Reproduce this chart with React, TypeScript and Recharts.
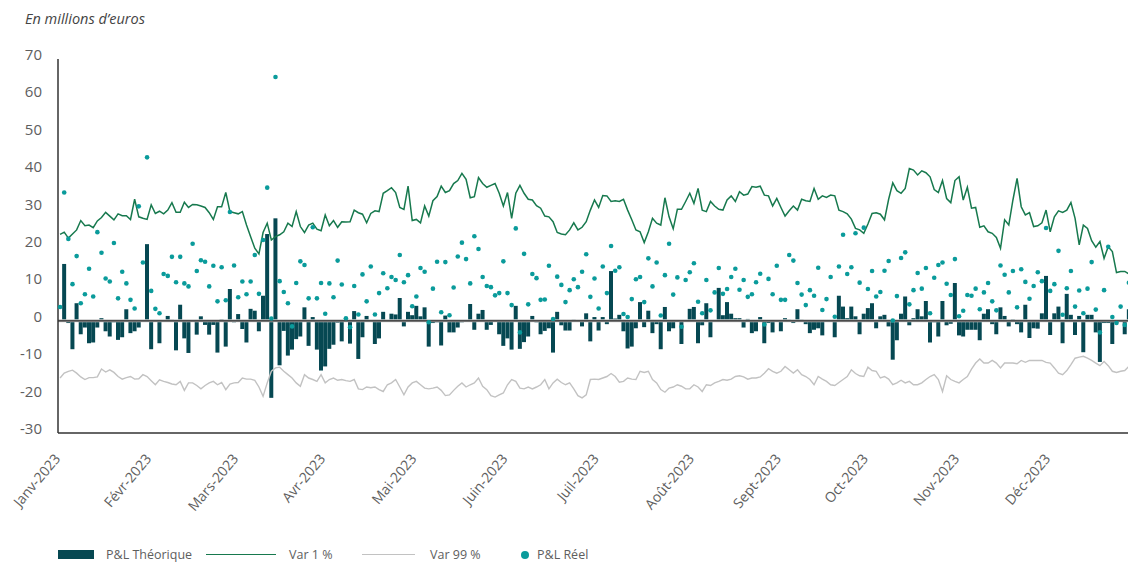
import React from 'react';
import { ComposedChart, Bar, Line, XAxis, YAxis, ReferenceLine } from 'recharts';

// P&L Théorique (bars), one value per trading day
const pnlTheorique = [
  0, 15.2, -0.6, -7.6, 4.7, -3.6, -1.8, -6.0, -5.8, -1.8, 0.7, -2.8, -4.2, -0.4, -5.1, -4.4, 3.1, -3.3, -2.8, -1.8, 0, 20.5, -7.6, 0, -6.0, 0, 1.3, 0.3, -7.9, 4.3, -4.7, -8.6,
  -0.3, -3.7, 1.2, -1.1, -3.7, -1.1, -8.5, 0.4, -6.9, 8.5, -0.4, 1.8, -2.2, -5.8, 3.2, 2.7, -2.8, 6.7, 23.2, -20.6, 27.4, -11.9, -2.7, -9.3, -7.7, -4.9, -4.2, 3.6, -6.7, 1.0, -7.7, -13.3,
  -12.2, -7.5, -6.4, -0.5, -5.5, 0.7, -6.1, 2.6, -10.2, -4.4, 1.3, -0.3, -6.2, -4.7, 2.4, 0, 1.9, 1.7, 6.1, -1.5, 2.4, 1.5, 4.0, 1.2, 3.6, -6.9, -0.6, -0.4, -6.6, 1.4, -3.1, -3.1,
  -1.8, -0.4, -0.3, 4.5, -2.4, 1.9, 2.9, -2.4, -1.1, 0, -3.6, -6.7, -4.7, -7.7, 4.0, -7.5, -5.7, -4.2, 1.3, -0.4, -3.6, -2.7, -2.0, -8.5, 2.4, -1.2, -2.6, -2.6, 0.3, 0, -1.5, 2.0,
  -5.5, 1.0, -2.6, 1.0, -0.9, 13.3, 0.6, 1.6, -2.8, -7.4, -6.9, -2.0, 5.0, -1.7, 2.7, -3.3, -0.9, -7.6, 3.7, -2.8, -2.0, 0, -6.2, 0, 3.2, 3.7, -6.0, -1.2, 4.7, -4.4, 0, 8.8,
  1.5, 5.0, 1.9, 0.7, 0.7, -1.8, 0.5, -3.3, -2.8, 1.0, -6.0, -0.6, -3.1, 0, -2.8, 0.7, 0.3, -0.6, 3.1, 0.3, -0.9, -3.3, -2.4, -2.0, -3.9, 0, 0, -4.4, 6.7, 3.8, 0.7, 3.8,
  1.2, -3.6, 1.9, 3.4, 4.7, -2.0, 1.2, 1.6, -1.5, -10.4, -5.2, 1.9, 6.5, -1.2, 0.7, 3.1, 1.2, 5.3, -5.8, -0.4, -4.2, 5.3, -1.2, -0.8, 10.1, -3.9, -4.2, -2.4, -2.4, -2.4, -5.2, 1.9,
  3.1, -0.9, -3.6, 3.6, 1.3, -1.5, 0.4, -0.9, -3.1, 4.3, -4.6, -2.0, -2.1, 2.0, 12.0, -3.8, 2.0, 3.8, -6.0, 7.2, 1.6, -3.8, 1.3, -8.4, 1.6, 1.6, -3.1, -11.0, -0.6, -0.6, -6.2, -0.6, 0, -3.6, 3.1,
];

// Var 1 %
const var1 = [
  23.1, 23.7, 22.1, 23.2, 24.3, 26.8, 25.4, 25.6, 24.9, 26.7, 27.6, 29.0, 28.0, 27.0, 28.6, 28.1, 28.1, 27.1, 32.5, 27.8, 27.4, 27.1, 31.0, 28.7, 29.3, 28.6, 29.6, 31.6, 29.0, 29.0, 31.7, 30.3,
  31.1, 31.0, 30.7, 30.3, 28.9, 27.1, 30.5, 30.5, 34.3, 29.2, 28.9, 28.6, 29.2, 25.6, 22.5, 19.4, 17.9, 23.6, 26.1, 21.6, 22.5, 23.0, 23.8, 26.1, 25.2, 29.2, 25.2, 23.6, 25.6, 26.1, 24.5, 24.1,
  28.3, 25.4, 26.8, 25.0, 26.5, 26.4, 26.5, 29.6, 28.9, 28.5, 26.2, 28.7, 29.4, 29.2, 34.1, 34.8, 35.6, 34.3, 30.3, 29.8, 36.0, 26.8, 27.1, 26.2, 30.7, 28.0, 32.1, 33.2, 36.0, 34.3, 34.8, 36.7,
  37.5, 39.4, 37.8, 32.9, 33.2, 38.3, 36.7, 35.7, 36.2, 36.7, 34.1, 30.7, 34.3, 27.4, 34.1, 36.2, 34.1, 32.5, 32.3, 30.8, 30.1, 28.0, 27.8, 26.5, 23.6, 23.2, 23.0, 24.3, 26.2, 24.3, 25.0, 26.5,
  29.6, 32.3, 30.3, 33.5, 33.4, 31.9, 32.1, 31.9, 32.5, 29.6, 27.0, 24.3, 23.8, 20.9, 23.8, 27.4, 26.1, 25.6, 32.9, 27.8, 24.6, 29.8, 29.8, 31.9, 34.1, 31.4, 35.4, 29.6, 29.2, 31.9, 30.7, 29.8,
  29.6, 32.3, 33.4, 31.9, 34.5, 33.6, 33.9, 35.9, 35.7, 36.0, 33.6, 33.4, 30.7, 32.7, 30.3, 28.0, 29.4, 30.7, 29.6, 32.5, 32.1, 31.9, 35.4, 32.5, 33.4, 33.0, 33.6, 33.4, 29.6, 29.2, 28.6, 27.2,
  24.7, 24.3, 23.4, 25.9, 28.7, 28.9, 28.5, 27.0, 32.5, 36.9, 34.8, 34.1, 35.4, 40.7, 40.3, 39.0, 40.1, 39.6, 38.5, 35.1, 34.3, 37.5, 32.7, 31.6, 37.5, 38.5, 32.3, 35.7, 30.1, 30.3, 25.0, 25.4,
  23.8, 23.4, 22.3, 19.4, 27.0, 25.6, 32.3, 38.1, 30.5, 28.3, 28.9, 25.2, 25.4, 26.2, 29.6, 23.8, 27.8, 29.4, 29.0, 29.6, 31.6, 27.4, 20.3, 25.6, 24.7, 21.4, 19.7, 21.2, 16.7, 19.8, 18.5, 12.9, 13.2, 13.2, 12.5,
];

// Var 99 %
const var99 = [
  -15.3, -14.0, -13.5, -13.2, -14.0, -15.0, -15.7, -15.2, -15.2, -15.0, -12.9, -13.7, -13.1, -13.8, -14.9, -15.6, -15.2, -14.9, -15.6, -15.5, -14.4, -14.9, -16.0, -17.1, -15.8, -16.2, -16.5, -16.9, -17.1, -16.2, -18.6, -16.6,
  -16.6, -17.3, -18.2, -17.3, -16.6, -16.2, -17.1, -16.5, -18.4, -16.9, -16.6, -16.5, -15.3, -15.6, -15.6, -15.9, -17.7, -20.2, -16.6, -13.5, -12.6, -12.4, -13.5, -14.4, -15.3, -16.6, -17.5, -14.4, -15.3, -15.7, -16.2, -14.4,
  -16.6, -15.7, -15.3, -15.9, -15.7, -16.0, -16.2, -15.7, -18.2, -18.4, -17.7, -17.9, -17.7, -18.4, -18.9, -17.1, -16.6, -15.7, -17.7, -19.8, -17.7, -16.6, -16.2, -17.1, -18.0, -18.2, -18.0, -17.7, -18.6, -20.0, -19.8, -18.6,
  -17.5, -16.6, -17.7, -17.1, -16.6, -15.3, -17.5, -18.4, -20.0, -20.4, -19.8, -19.3, -17.1, -15.7, -16.2, -18.0, -18.2, -17.7, -18.2, -17.7, -17.1, -15.7, -18.2, -16.6, -15.6, -16.5, -17.1, -16.6, -18.2, -20.0, -20.6, -19.8,
  -15.7, -15.6, -15.7, -15.3, -14.9, -14.1, -14.9, -16.4, -16.2, -15.3, -15.6, -15.7, -13.5, -13.8, -13.5, -15.7, -16.6, -18.4, -19.1, -18.0, -17.7, -17.1, -17.5, -18.2, -18.2, -17.1, -17.7, -18.9, -17.1, -17.3, -16.6, -16.2,
  -15.7, -15.9, -15.6, -14.9, -14.7, -15.0, -15.6, -15.3, -15.3, -15.0, -14.0, -12.8, -13.5, -14.0, -13.5, -12.2, -13.1, -14.0, -13.1, -14.4, -14.9, -15.7, -17.1, -14.9, -15.6, -16.2, -17.1, -17.3, -16.5, -15.7, -14.9, -13.1,
  -14.1, -14.7, -14.9, -12.4, -13.3, -13.5, -15.3, -14.9, -15.6, -17.1, -16.6, -15.9, -16.6, -16.2, -17.1, -17.1, -16.6, -15.7, -14.9, -14.4, -15.7, -18.9, -14.7, -15.7, -16.2, -16.6, -15.7, -14.9, -12.9, -11.3, -10.2, -11.3,
  -11.3, -10.6, -11.3, -12.6, -11.3, -11.3, -11.3, -11.5, -10.6, -11.1, -10.6, -10.6, -10.6, -10.6, -11.1, -11.3, -12.6, -14.0, -14.4, -13.3, -11.7, -10.0, -9.7, -9.5, -10.0, -10.6, -11.3, -12.0, -10.9, -12.0, -13.5, -13.8, -13.5, -13.3, -12.2,
];

// P&L Réel (dots)
const pnlReel = [
  3.7, 34.3, 21.9, 9.8, 17.3, 4.7, 7.1, 13.9, 6.5, 23.7, 18.2, 11.3, 10.5, 20.8, 6.0, 13.1, 10.0, 5.6, 3.3, 30.6, 15.6, 43.7, 8.0, 3.2, 2.0, 12.5, 12.0, 17.1, 10.3, 17.1, 10.0, 9.2,
  20.6, 13.3, 16.2, 15.8, 9.2, 14.7, 5.2, 14.3, 5.5, 29.1, 14.8, 6.3, 10.5, 7.1, 10.5, 17.6, 7.2, 21.6, 35.6, 0.6, 65.2, 10.6, 7.7, 4.7, -1.5, 10.1, 15.9, 14.9, 6.0, 25.0, 6.0, 10.1,
  1.9, 10.0, 6.3, 16.1, 9.7, 0.7, -1.7, 9.3, 1.7, 12.4, 5.2, 14.5, 1.7, 7.4, 12.7, 8.7, 11.7, 10.9, 17.6, 10.3, 12.2, 3.9, 6.5, 14.1, 13.1, -0.4, 8.6, 15.8, 2.3, 15.7, 1.5, 8.9,
  17.2, 20.9, 16.5, 10.0, 22.6, 19.2, 11.7, 9.3, 9.0, 6.8, 7.4, 15.9, 7.4, 4.2, 24.7, -3.1, 17.9, 4.4, 12.5, 11.4, 5.6, 5.7, 14.7, 0.5, 11.8, 9.6, 5.0, 8.2, 11.1, 9.0, 13.1, 17.8,
  6.4, 11.3, 3.3, 14.5, 7.4, 20.0, 13.4, 14.3, 1.8, 1.0, 5.8, 11.1, 11.7, 5.0, 16.7, 9.2, 15.6, 1.4, 12.2, 20.6, 7.0, 11.6, -1.6, 10.9, 13.0, 15.4, 5.1, 2.0, 10.9, 2.8, 7.6, 14.1,
  7.2, 8.5, 11.7, 13.9, 8.3, 10.9, 6.4, 7.1, 10.3, 12.6, -1.0, 11.2, 7.1, 14.7, 5.6, 5.6, 17.6, 16.1, 10.1, 7.0, 4.2, 8.2, 6.7, 14.2, 2.9, 5.8, 11.7, 1.1, 14.5, 23.0, 12.5, 14.3,
  23.4, 10.2, 24.9, 8.5, 13.3, 6.5, 7.7, 13.4, 16.0, 0.1, 6.6, 16.8, 18.3, 4.4, 8.2, 12.8, 8.6, 14.1, 2.0, 11.5, 14.9, 15.6, 9.9, 6.9, 16.5, 1.2, 2.7, 6.9, 6.7, 8.6, 3.1, 7.6,
  10.1, 5.2, 2.8, 14.8, 12.3, 7.6, 13.3, 3.6, 13.8, 10.4, 5.9, 9.3, 13.0, 10.6, 24.8, 8.0, 9.8, 18.7, 1.6, 8.7, 13.3, 3.8, 8.1, 2.0, 8.6, 15.7, 3.0, -3.1, 8.2, 19.8, 1.0, -0.6, 3.8, -1.1, 10.2,
];

const monthLabels = ['Janv-2023', 'Févr-2023', 'Mars-2023', 'Avr-2023', 'Mai-2023', 'Juin-2023', 'Juil-2023', 'Août-2023', 'Sept-2023', 'Oct-2023', 'Nov-2023', 'Déc-2023'];
const monthTickIndex = [0, 22, 43, 64, 86, 108, 130, 153, 174, 195, 217, 239];
const yTicks = [-30, -20, -10, 0, 10, 20, 30, 40, 50, 60, 70];

const data = pnlTheorique.map((v, i) => ({
  i,
  theo: v,
  var1: var1[i],
  var99: var99[i],
  reel: pnlReel[i],
}));

const FONT = '"Open Sans", "Liberation Sans", sans-serif';
const C_BAR = '#064852';
const C_VAR1 = '#17794E';
const C_VAR99 = '#C2C2C2';
const C_DOT = '#0A9B9B';
const C_TEXT = '#5E5E5E';

const tickMap: Record<number, string> = {};
monthTickIndex.forEach((idx, k) => { tickMap[idx] = monthLabels[k]; });

const XTick = (props: any) => {
  const { x, y, payload } = props;
  const label = tickMap[payload.value];
  if (label === undefined) return <g />;
  return (
    <g transform={`translate(${x + 1},${y + 24})`}>
      <text textAnchor="end" transform="rotate(-50)" fontSize={14} fill={C_TEXT} fontFamily={FONT}>
        {label}
      </text>
    </g>
  );
};

const YTick = (props: any) => {
  const { x, y, payload } = props;
  return (
    <text x={x} y={y + 1} textAnchor="end" fontSize={15} fill={C_TEXT} fontFamily={FONT}>
      {payload.value}
    </text>
  );
};

const legendText: React.CSSProperties = {
  position: 'absolute', top: 547, fontSize: 12.5, color: C_TEXT, fontFamily: FONT, lineHeight: '16px',
};

export default function App() {
  return (
    <div style={{ position: 'absolute', left: 0, top: 0, width: 1128, height: 565, overflow: 'hidden', background: '#fff' }}>
      <div style={{ position: 'absolute', left: 25, top: 9, fontSize: 14.5, fontStyle: 'italic', color: '#444', fontFamily: FONT }}>
        En millions d’euros
      </div>
      <div style={{ position: 'absolute', left: 0, top: 0 }}>
        <ComposedChart width={1131} height={565} data={data} margin={{ top: 59, right: 0, bottom: 0, left: 0 }} barCategoryGap={0}>
          <XAxis
            dataKey="i"
            type="category"
            interval={0}
            tick={<XTick />}
            tickLine={false}
            tickSize={0}
            height={132}
            axisLine={{ stroke: '#333', strokeWidth: 1.5 }}
          />
          <YAxis
            type="number"
            domain={[-30, 70]}
            ticks={yTicks}
            interval={0}
            width={58}
            tickLine={false}
            tickSize={0}
            tickMargin={16}
            tick={<YTick />}
            axisLine={{ stroke: '#333', strokeWidth: 1.5 }}
          />
          <ReferenceLine y={0} stroke="#C8C8C8" strokeWidth={3} />
          <Bar dataKey="theo" fill={C_BAR} barSize={4} isAnimationActive={false} />
          <ReferenceLine y={0} stroke="#222" strokeWidth={1.2} />
          <Line type="linear" dataKey="var99" stroke={C_VAR99} strokeWidth={1.4} dot={false} activeDot={false} isAnimationActive={false} />
          <Line type="linear" dataKey="var1" stroke={C_VAR1} strokeWidth={1.5} dot={false} activeDot={false} isAnimationActive={false} />
          <Line
            type="linear"
            dataKey="reel"
            stroke="none"
            strokeWidth={0}
            dot={{ r: 2.3, fill: C_DOT, stroke: 'none' }}
            activeDot={false}
            isAnimationActive={false}
          />
        </ComposedChart>
      </div>
      {/* Legend */}
      <div style={{ position: 'absolute', left: 58, top: 550, width: 36, height: 9, background: C_BAR }} />
      <div style={{ ...legendText, left: 106 }}>P&amp;L Théorique</div>
      <div style={{ position: 'absolute', left: 206, top: 554, width: 70, height: 0, borderTop: `1.5px solid ${C_VAR1}` }} />
      <div style={{ ...legendText, left: 289 }}>Var 1 %</div>
      <div style={{ position: 'absolute', left: 362, top: 554, width: 53, height: 0, borderTop: `1.5px solid ${C_VAR99}` }} />
      <div style={{ ...legendText, left: 430 }}>Var 99 %</div>
      <div style={{ position: 'absolute', left: 521, top: 551, width: 8, height: 8, borderRadius: 4, background: C_DOT }} />
      <div style={{ ...legendText, left: 537 }}>P&amp;L Réel</div>
    </div>
  );
}
